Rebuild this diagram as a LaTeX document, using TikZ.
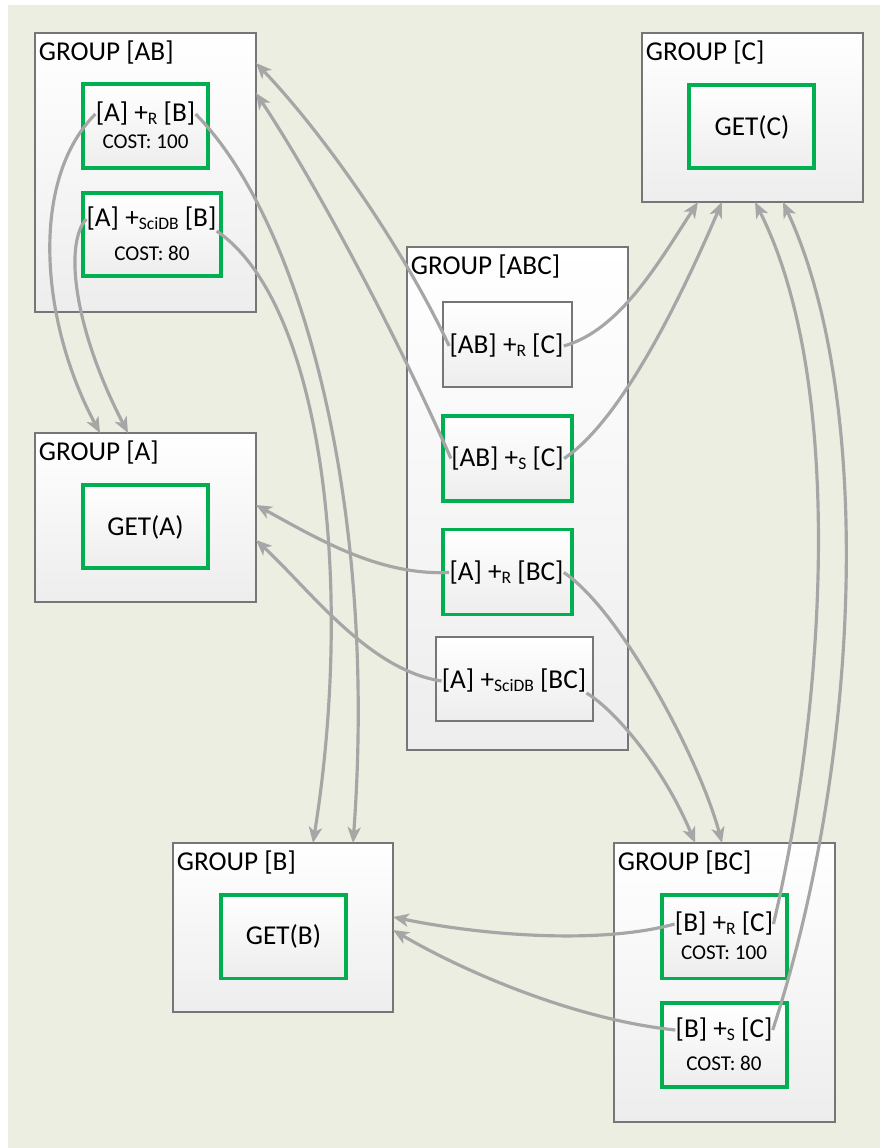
\documentclass[tikz,border=0pt]{standalone}
\usepackage{fontspec}
\setmainfont{Carlito}
\usetikzlibrary{arrows.meta,positioning,calc}
\definecolor{bgpaper}{RGB}{235,238,224}
\definecolor{okgreen}{RGB}{0,176,80}
\definecolor{linkgray}{RGB}{166,166,166}
\definecolor{framegray}{RGB}{118,118,118}
\newcommand{\opsub}[1]{\raisebox{-1.5pt}{\fontsize{10}{10}\selectfont #1}}
\tikzstyle{group}=[rectangle,draw=framegray,line width=0.8pt,top color=white,bottom color=black!7,
anchor=north west,inner sep=0pt,outer sep=0pt,minimum width=4.42cm]
\tikzstyle{grptitle}=[inner sep=0pt,font=\fontsize{15.5}{18}\selectfont]
\tikzstyle{okbox}=[rectangle,draw=okgreen,line width=2pt,top color=white,bottom color=black!7,
inner sep=0pt,outer sep=0pt,minimum width=2.5cm,minimum height=1.67cm]
\tikzstyle{plainbox}=[okbox,draw=framegray,line width=0.8pt]
\tikzstyle{optext}=[inner sep=0pt,font=\fontsize{15.5}{18}\selectfont]
\tikzstyle{costtext}=[inner sep=0pt,font=\fontsize{12}{14}\selectfont]
\tikzstyle{link}=[draw=linkgray,line width=1.8pt,-{Stealth[length=9pt,width=7.5pt,inset=2.5pt]}]

\begin{document}
\begin{tikzpicture}[x=0.2mm,y=-0.2mm]
            \useasboundingbox (0,0) rectangle (880,1148);
            \fill[white] (0,0) rectangle (880,1148);
            \fill[bgpaper] (8,5) rectangle (880,1148);

            % GROUP AB

            \node[group,minimum height=5.58cm] (gAB) at (35,33) {};
            \node[grptitle,below right=4pt and 2pt of gAB.north west] (gABt) {GROUP [AB]};
            \node[okbox] (abR) at (145.5,126) {};
            \node[optext] (abRt) at (145.5,114) {[A] +\opsub{R} [B]};
            \node[costtext] (abRc) at (145.5,141.5) {COST: 100};
            \node[okbox,minimum width=2.76cm] (abS) at (152,234.5) {};
            \node[optext] (abSt) at (151.5,219) {[A] +\opsub{SciDB} [B]};
            \node[costtext] (abSc) at (152,253) {COST: 80};

            % GROUP C

            \node[group,minimum height=3.38cm] (gC) at (642,33) {};
            \node[grptitle,below right=4pt and 2pt of gC.north west] (gCt) {GROUP [C]};
            \node[okbox] (getC) at (751.5,126.5) {};
            \node[optext] (getCt) at (752,127) {GET(C)};

            % GROUP ABC

            \node[group,minimum height=10.06cm] (gABC) at (407,247) {};
            \node[grptitle,below right=4pt and 2pt of gABC.north west] (gABCt) {GROUP [ABC]};
            \node[plainbox,minimum width=2.58cm,minimum height=1.70cm] (abcR) at (507.5,344.5) {};
            \node[optext] (abcRt) at (506.5,346) {[AB] +\opsub{R} [C]};
            \node[okbox,minimum width=2.58cm,minimum height=1.70cm] (abcS) at (507.5,458.5) {};
            \node[optext] (abcSt) at (507.5,458.5) {[AB] +\opsub{S} [C]};
            \node[okbox,minimum width=2.58cm,minimum height=1.70cm] (abcRbc) at (507.5,572) {};
            \node[optext] (abcRbct) at (506.5,572.5) {[A] +\opsub{R} [BC]};
            \node[plainbox,minimum width=3.14cm,minimum height=1.68cm] (abcSbc) at (514.5,679) {};
            \node[optext] (abcSbct) at (514,681) {[A] +\opsub{SciDB} [BC]};

            % GROUP A

            \node[group,minimum height=3.38cm] (gA) at (35,433) {};
            \node[grptitle,below right=4pt and 2pt of gA.north west] (gAt) {GROUP [A]};
            \node[okbox] (getA) at (145.5,526.5) {};
            \node[optext] (getAt) at (145.5,527) {GET(A)};

            % GROUP B

            \node[group,minimum width=4.40cm,minimum height=3.38cm] (gB) at (173,843) {};
            \node[grptitle,below right=4pt and 2pt of gB.north west] (gBt) {GROUP [B]};
            \node[okbox] (getB) at (283.5,936.5) {};
            \node[optext] (getBt) at (283.5,936) {GET(B)};

            % GROUP BC

            \node[group,minimum height=5.58cm] (gBC) at (614,843) {};
            \node[grptitle,below right=4pt and 2pt of gBC.north west] (gBCt) {GROUP [BC]};
            \node[okbox] (bcR) at (724.5,936.5) {};
            \node[optext] (bcRt) at (724,924) {[B] +\opsub{R} [C]};
            \node[costtext] (bcRc) at (724,953) {COST: 100};
            \node[okbox,minimum height=1.68cm] (bcS) at (724.5,1045) {};
            \node[optext] (bcSt) at (724,1030) {[B] +\opsub{S} [C]};
            \node[costtext] (bcSc) at (724,1063) {COST: 80};

            % arrow ends on the groups

            \coordinate (inA1) at ($(gA.north west)+(65,0)$);
            \coordinate (inA2) at ($(gA.north west)+(93,0)$);
            \coordinate (inA3) at ($(gA.north east)+(0,72)$);
            \coordinate (inA4) at ($(gA.north east)+(0,107)$);
            \coordinate (inB1) at ($(gB.north west)+(140,0)$);
            \coordinate (inB2) at ($(gB.north west)+(180,0)$);
            \coordinate (inB3) at ($(gB.north east)+(0,74)$);
            \coordinate (inB4) at ($(gB.north east)+(0,87)$);
            \coordinate (inAB1) at ($(gAB.north east)+(0,30)$);
            \coordinate (inAB2) at ($(gAB.north east)+(0,60)$);
            \coordinate (inC1) at ($(gC.south west)+(56,0)$);
            \coordinate (inC2) at ($(gC.south west)+(80,0)$);
            \coordinate (inC3) at ($(gC.south west)+(113,0)$);
            \coordinate (inC4) at ($(gC.south west)+(141,0)$);
            \coordinate (inBC1) at ($(gBC.north west)+(81,0)$);
            \coordinate (inBC2) at ($(gBC.north west)+(108,0)$);

            % Connections

            \draw[link] (abRt.west) .. controls +(-66,66) and +(-60,-112) .. (inA1);
            \draw[link] (abSt.west) .. controls +(-23,26) and +(-53,-102) .. (inA2);
            \draw[link] (abRt.east) .. controls +(105,106) and +(25,-340) .. (inB2);
            \draw[link] (abSt.south east) .. controls +(105,72) and +(42,-263) .. (inB1);

            \draw[link] (abcRt.west) .. controls +(-50,-106) and +(64,67) .. (inAB1);
            \draw[link] (abcSt.west) .. controls +(-52,-118) and +(64,97) .. (inAB2);
            \draw[link] (abcRt.east) .. controls +(57,-16) and +(-38,58) .. (inC1);
            \draw[link] (abcSt.east) .. controls +(57,-38) and +(-42,98) .. (inC2);
            \draw[link] (abcRbct.west) .. controls +(-70,3) and +(64,35) .. (inA3);
            \draw[link] (abcSbct.west) .. controls +(-73,-11) and +(54,50) .. (inA4);
            \draw[link] (abcRbct.east) .. controls +(57,38) and +(-22,-83) .. (inBC2);
            \draw[link] (abcSbct.south east) .. controls +(30,18) and +(-30,-73) .. (inBC1);

            \draw[link] (bcRt.east) .. controls +(53,-224) and +(90,178) .. (inC3);
            \draw[link] (bcSt.east) .. controls +(88,-270) and +(92,198) .. (inC4);
            \draw[link] (bcRt.west) .. controls +(-76,21) and +(87,18) .. (inB3);
            \draw[link] (bcSt.west) .. controls +(-96,-10) and +(77,45) .. (inB4);

\end{tikzpicture}
\end{document}
